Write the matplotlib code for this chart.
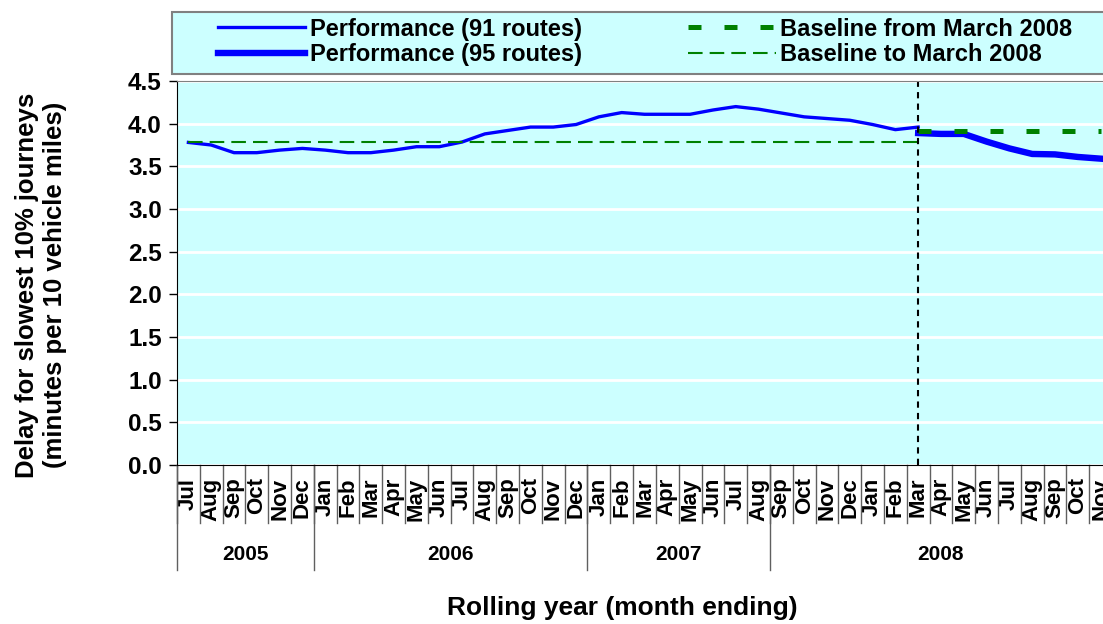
import matplotlib
matplotlib.use('Agg')
import matplotlib.pyplot as plt
from matplotlib.patches import Rectangle
import numpy as np

plt.rcParams['font.family'] = ['Liberation Sans', 'DejaVu Sans']
plt.rcParams['font.weight'] = 'bold'

# category axis (labels as in the source chart)
months = (['Jul', 'Aug', 'Sep', 'Oct', 'Nov', 'Dec']
          + ['Jan', 'Feb', 'Mar', 'Apr', 'May', 'Jun', 'Jul', 'Aug', 'Sep', 'Oct', 'Nov', 'Dec']
          + ['Jan', 'Feb', 'Mar', 'Apr', 'May', 'Jun', 'Jul', 'Aug']
          + ['Sep', 'Oct', 'Nov', 'Dec', 'Jan', 'Feb', 'Mar', 'Apr', 'May', 'Jun', 'Jul',
             'Aug', 'Sep', 'Oct', 'Nov'])
years = ['2005', '2006', '2007', '2008']
year_counts = [6, 12, 8, 15]

# performance series
perf91 = [3.78, 3.75, 3.66, 3.66, 3.69, 3.71, 3.69, 3.66, 3.66, 3.69, 3.73, 3.73,
          3.785, 3.88, 3.92, 3.96, 3.96, 3.99, 4.08, 4.13, 4.11, 4.11, 4.11, 4.16,
          4.20, 4.17, 4.125, 4.08, 4.06, 4.04, 3.99, 3.93, 3.96]
perf95 = [3.89, 3.88, 3.88, 3.79, 3.71, 3.645, 3.64, 3.61, 3.59]
baseline_to = 3.78
baseline_from = 3.91
split_idx = 32  # March 2008

n = len(months)
x91 = np.arange(len(perf91)) + 0.5
x95 = np.arange(split_idx, split_idx + len(perf95)) + 0.5

W, H = 1103, 624
fig = plt.figure(figsize=(W / 100, H / 100), dpi=100)
ax = fig.add_axes([177 / W, 159 / H, 935 / W, 384 / H])
ax.set_facecolor('#CCFFFF')

ax.set_xlim(0, n)
ax.set_ylim(0, 4.5)
ax.set_yticks(np.arange(0, 4.51, 0.5))
ax.set_yticklabels([f'{v:.1f}' for v in np.arange(0, 4.51, 0.5)], fontsize=17.5)
ax.yaxis.grid(True, color='white', lw=2)
ax.set_axisbelow(True)

ax.spines['top'].set_color('#808080')
ax.spines['right'].set_visible(False)
ax.spines['left'].set_color('black')
ax.spines['bottom'].set_color('black')
ax.tick_params(axis='y', length=6, width=1, direction='out', pad=5)

# lines
ax.plot(x91, perf91, color='#0000FF', lw=2.4, solid_joinstyle='round',
        label='Performance (91 routes)')
ax.plot(x95, perf95, color='#0000FF', lw=4.6, solid_joinstyle='round',
        label='Performance (95 routes)')
ax.plot([x95[0], x95[-1]], [baseline_from, baseline_from], color='#008000', lw=3.6,
        linestyle=(0, (2.6, 4.6)), label='Baseline from March 2008')
ax.plot([x91[0], x91[-1]], [baseline_to, baseline_to], color='#008000', lw=1.5,
        linestyle=(0, (7.0, 3.4)), label='Baseline to March 2008')
ax.axvline(split_idx + 0.5, color='black', lw=1.5, linestyle=(0, (3, 2.5)))

# month labels
ax.set_xticks(np.arange(n) + 0.5)
ax.set_xticklabels(months, rotation=90, fontsize=16, va='top')
ax.tick_params(axis='x', length=0, pad=9)

# multi-level category dividers
xt = ax.get_xaxis_transform()
for b in range(n + 1):
    ax.plot([b, b], [0, -0.151], color='#606060', lw=1, transform=xt, clip_on=False)
edges = np.concatenate([[0], np.cumsum(year_counts)])
for b in edges:
    ax.plot([b, b], [0, -0.273], color='#606060', lw=1, transform=xt, clip_on=False)
for i, yr in enumerate(years):
    ax.text((edges[i] + edges[i + 1]) / 2, -0.232, yr, transform=xt,
            ha='center', va='center', fontsize=15)

# axis labels
fig.text(622 / W, 1 - 608 / H, 'Rolling year (month ending)', ha='center', va='center',
         fontsize=19)
fig.text(41 / W, 1 - 285 / H, 'Delay for slowest 10% journeys\n(minutes per 10 vehicle miles)',
         ha='center', va='center', rotation=90, fontsize=18.5, linespacing=1.2)

# legend box
fig.patches.append(Rectangle((172 / W, 1 - 74 / H), 940 / W, 62 / H, transform=fig.transFigure,
                             facecolor='#CCFFFF', edgecolor='#808080', lw=1.5, zorder=0))
handles, labels = ax.get_legend_handles_labels()
fig.legend(handles, labels, ncol=2, loc='center left', bbox_to_anchor=(218 / W, 1 - 42 / H),
           frameon=False, fontsize=17, borderpad=0, handlelength=3.7, handletextpad=0.2,
           columnspacing=4.5, labelspacing=0.12, borderaxespad=0)

fig.savefig('out.png', dpi=100)
